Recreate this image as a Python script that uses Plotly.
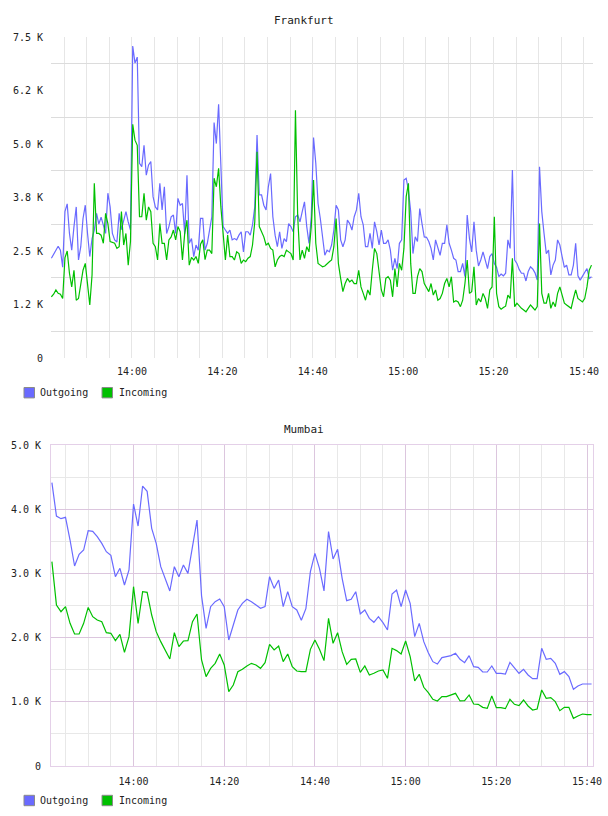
import pandas as pd
import plotly.graph_objects as go

# ---------------- data ----------------
fra_start = "2024-01-01 13:42:10"   # 30 s samples
fra_step = "30s"
fra_outgoing = [
    2330, 2430, 2520, 2610, 2520, 2120, 3420, 3600, 2910, 2520,
    3070, 3530, 2290, 2600, 3260, 3570, 2910, 2370, 2790, 2990,
    3380, 3130, 3290, 3110, 2910, 3850, 3530, 2910, 2760, 2710,
    3380, 3000, 3220, 3420, 3180, 2990, 7290, 6890, 7030, 4550,
    4470, 4970, 4270, 4510, 4590, 3770, 3530, 3460, 4080, 3460,
    4000, 2910, 3070, 3300, 3340, 2910, 3730, 3570, 3610, 2900,
    4270,
    2680, 2790, 2370, 2640, 2520, 3260, 3260, 2520, 2680, 2990,
    3300, 5500, 5010, 5930, 4310, 3070, 2990, 2910, 2990, 2760,
    2790, 2760, 2870, 2950, 2480, 2950, 2950, 2870, 3110, 3530,
    5210, 3810, 3810, 3570, 3460, 4000, 4310, 3300, 2870, 2600,
    2950, 2560, 2790, 2720, 3140, 3070, 2950, 3300, 3340, 3180,
    3420, 3650, 3070, 2680, 3300, 5150, 4550, 3610, 3260, 2760,
    2400,
    2520, 2480, 2640, 2990, 3570, 3460, 2760, 2600, 2760, 3220,
    3140, 2990, 3300, 3460, 3850, 3300, 3110, 2600, 2600, 2910,
    2560, 3180, 2950, 2640, 2990, 2680, 2680, 2760, 2520, 2050,
    2330, 2090, 2680, 2760, 4160, 4200, 3920, 3420, 2440, 2830,
    2720, 3490, 3140, 2830, 2820, 2720, 2560, 2290, 2760, 2600,
    2400, 2680, 2680, 3110, 2680, 2520, 2330, 2290, 2020, 2020,
    2210,
    1900, 3340, 2790, 2480, 3180, 2520, 2150, 2290, 2480, 2250,
    2090, 2370, 2440, 2210, 2120, 1900, 1960, 1920, 1980, 2760,
    2560, 4390, 2290, 2210, 2070, 1980, 1980, 1800, 2020, 2130,
    2080, 1990, 1820, 4470, 3420, 2910, 2440, 2520, 1940, 2170,
    2290, 2760, 2640, 2370, 2120, 2170, 1940, 1940, 2170, 2680,
    1920, 1820, 1900, 1990, 2090, 1860, 1900,
]
fra_incoming = [
    1430, 1490, 1590, 1510, 1490, 1390, 2340, 2500, 1980, 1660,
    2050, 1350, 1390, 1700, 2050, 2210, 1660, 1240, 1940, 4080,
    2910, 2910, 2870, 2680, 3380, 3140, 2720, 2690, 2680, 2560,
    2600, 3420, 2640, 2910, 2170, 2720, 5460, 5090, 4970, 3300,
    3300, 3850, 3220, 3530, 3420, 2680, 2600, 2290, 3140, 2680,
    2680, 2290, 2760, 2830, 2990, 2760, 3070, 2950, 2290, 2910,
    3220,
    2170, 2350, 2290, 2370, 2210, 2660, 2760, 2300, 2520, 2520,
    2440, 4200, 4000, 4430, 3530, 2830, 2290, 2870, 2370, 2370,
    2290, 2480, 2440, 2210, 2290, 2250, 2330, 2370, 2640, 3180,
    4820, 3070, 2950, 2830, 2640, 2680, 2560, 2520, 2130, 2290,
    2370, 2400, 2370, 2520, 2480, 2440, 2290, 5790, 3300, 2290,
    2520, 2330, 2600, 2480, 3070, 4160, 2680, 2210, 2170, 2130,
    2150,
    2210, 2250, 2290, 2600, 3260, 2210, 1860, 1550, 1740, 1860,
    1780, 1820, 1740, 1740, 2050, 1660, 1510, 1350, 1590, 1470,
    2050, 2560, 2440, 1980, 1590, 1430, 1860, 1900, 1820, 1430,
    2090, 1660, 2210, 2050, 2560, 3770, 4080, 2210, 1510, 1510,
    1900, 2090, 2020, 1740, 1660, 1550, 1740, 1470, 1590, 1350,
    1390, 1510, 1740, 1860, 1660, 1900, 1310, 1340, 1310, 1200,
    1350,
    1740, 2290, 1510, 1550, 2130, 1240, 1390, 1310, 1510, 1390,
    1160, 1590, 1660, 3300, 1510, 1200, 1140, 1180, 1210, 1470,
    1390, 2330, 1200, 1280, 1210, 1160, 1120, 1080, 1160, 1240,
    1180, 1120, 1200, 3140, 1510, 1280, 1280, 1510, 1160, 1310,
    1200, 1510, 1660, 1470, 1280, 1240, 1200, 1160, 1390, 1590,
    1390, 1340, 1310, 1390, 1660, 2050, 2170,
]

mum_start = "2024-01-01 13:42:00"   # 1 min samples
mum_step = "1min"
mum_outgoing = [
    4413, 3894, 3852, 3873, 3520, 3115, 3297, 3364, 3666, 3655,
    3572, 3468, 3338, 3281, 2949, 3079, 2819, 3053, 4081, 3738,
    4361, 4278, 3702, 3468, 3105, 2923, 2726, 3105, 2949, 3131,
    3001, 3416, 3832, 2650, 2144, 2482, 2560, 2601, 2482, 1963,
    2196, 2430, 2534, 2596, 2560, 2508, 2456, 2482, 2949, 2767,
    2897, 2482, 2715, 2482, 2430, 2270, 2450, 3027, 3312, 3079,
    2726, 3650, 3224, 3375, 2923, 2575, 2596, 2715, 2368, 2430,
    2300, 2238, 2326, 2233, 2118, 2679, 2741, 2482, 2741, 2534,
    2015, 2222, 1937, 1765, 1625, 1589, 1688, 1703, 1719, 1755,
    1662, 1610, 1719, 1547, 1537, 1464, 1464, 1558, 1444, 1444,
    1433, 1615, 1537, 1444, 1506, 1418, 1360, 1360, 1833, 1662,
    1677, 1599, 1428, 1470, 1392, 1194, 1246, 1277, 1277, 1277,
]
mum_incoming = [
    3183, 2508, 2404, 2482, 2222, 2056, 2056, 2222, 2470, 2326,
    2274, 2248, 2077, 2067, 1952, 2051, 1771, 2015, 2793, 2222,
    2715, 2705, 2352, 2093, 1937, 1807, 1667, 2077, 1859, 1947,
    1952, 2248, 2368, 1651, 1392, 1521, 1599, 1745, 1573, 1158,
    1262, 1469, 1506, 1558, 1599, 1573, 1521, 1610, 1895, 1807,
    1869, 1625, 1745, 1547, 1480, 1469, 1469, 1817, 1963, 1817,
    1641, 2300, 1911, 2077, 1781, 1584, 1662, 1667, 1459, 1558,
    1418, 1444, 1480, 1495, 1366, 1833, 1797, 1745, 1947, 1703,
    1324, 1428, 1226, 1142, 1039, 1013, 1080, 1080, 1106, 1132,
    1013, 1018, 1106, 966, 961, 914, 898, 1090, 909, 909,
    893, 1039, 961, 940, 1028, 935, 872, 888, 1184, 1054,
    1065, 1002, 862, 914, 914, 743, 779, 810, 800, 800,
]

fra_yticks = [0, 1250, 2500, 3750, 5000, 6250, 7500]
fra_ylabels = ["0", "1.2 K", "2.5 K", "3.8 K", "5.0 K", "6.2 K", "7.5 K"]
mum_yticks = [0, 1000, 2000, 3000, 4000, 5000]
mum_ylabels = ["0", "1.0 K", "2.0 K", "3.0 K", "4.0 K", "5.0 K"]
series_names = ["Outgoing", "Incoming"]
series_colors = ["#6a6aff", "#00c000"]
chart_titles = ["Frankfurt", "Mumbai"]

fra_x = pd.date_range(fra_start, periods=len(fra_outgoing), freq=fra_step)
fra_x2 = pd.date_range(fra_start, periods=len(fra_incoming), freq=fra_step)
mum_x = pd.date_range(mum_start, periods=len(mum_outgoing), freq=mum_step)
mum_x2 = pd.date_range(mum_start, periods=len(mum_incoming), freq=mum_step)

# ---------------- layout geometry (pixels) ----------------
W, H = 608, 816
ML, MR, MT, MB = 51, 15, 37, 50
PW, PH = W - ML - MR, H - MT - MB


def px(x):   # pixel x -> paper x
    return (x - ML) / PW


def py(y):   # pixel y -> paper y
    return 1 - (y - MT) / PH


FONT = "DejaVu Sans Mono"
TXT = "#222222"

fig = go.Figure()
for xs, ys, xa, ya, name, col in [
    (fra_x, fra_outgoing, "x", "y", series_names[0], series_colors[0]),
    (fra_x2, fra_incoming, "x", "y", series_names[1], series_colors[1]),
    (mum_x, mum_outgoing, "x2", "y2", series_names[0], series_colors[0]),
    (mum_x2, mum_incoming, "x2", "y2", series_names[1], series_colors[1]),
]:
    fig.add_trace(go.Scatter(x=xs, y=ys, xaxis=xa, yaxis=ya, mode="lines",
                             line=dict(color=col, width=1.2), name=name,
                             showlegend=False, hoverinfo="x+y+name"))

tick0 = "2024-01-01 14:00:00"
common_x = dict(type="date", tickformat="%H:%M", tick0=tick0, dtick=20 * 60 * 1000,
                ticks="", zeroline=False, automargin=False,
                tickfont=dict(family=FONT, size=10, color=TXT),
                ticklabelstandoff=6)

# legend swatches + texts (drawn as shapes/annotations)
shapes, annotations = [], []
for legend_y in [392.7, 800.5]:
    for (sx, tx), name, col in zip([(24, 39), (102, 118)], series_names, series_colors):
        shapes.append(dict(type="rect", xref="paper", yref="paper",
                           x0=px(sx), x1=px(sx + 10.5),
                           y0=py(legend_y - 5.2), y1=py(legend_y + 5.2),
                           fillcolor=col, line=dict(color="#8a8a8a", width=1)))
        annotations.append(dict(text=name, xref="paper", yref="paper",
                                x=px(tx - 1), y=py(legend_y), showarrow=False,
                                xanchor="left", yanchor="middle",
                                font=dict(family=FONT, size=10, color=TXT)))

for title, ty in zip(chart_titles, [20, 429]):
    annotations.append(dict(text=title, xref="paper", yref="paper", x=px(304), y=py(ty),
                            showarrow=False, xanchor="center", yanchor="middle",
                            font=dict(family=FONT, size=11, color=TXT)))

fig.update_layout(
    width=W, height=H,
    margin=dict(l=ML, r=MR, t=MT, b=MB, autoexpand=False),
    paper_bgcolor="white", plot_bgcolor="white",
    font=dict(family=FONT, size=10, color=TXT),
    showlegend=False,
    xaxis=dict(**common_x, anchor="y", domain=[0, 1], showline=False,
               range=["2024-01-01 13:42:05", "2024-01-01 15:42:00"],
               showgrid=True, gridcolor="#e6e6e6", gridwidth=1,
               minor=dict(tick0=tick0, dtick=5 * 60 * 1000, showgrid=True,
                          gridcolor="#e6e6e6", gridwidth=1)),
    yaxis=dict(anchor="x", domain=[py(358), 1], range=[0, 7500], automargin=False,
               tickmode="array", tickvals=fra_yticks, ticktext=fra_ylabels,
               showgrid=False, zeroline=False, showline=False, ticks="",
               ticklabelstandoff=7,
               tickfont=dict(family=FONT, size=10, color=TXT),
               minor=dict(tickmode="linear", tick0=625, dtick=1250, showgrid=True,
                          gridcolor="#dcdcdc", gridwidth=1)),
    xaxis2=dict(**common_x, anchor="y2", domain=[0, 1],
                range=["2024-01-01 13:41:48", "2024-01-01 15:41:19"],
                showgrid=True, gridcolor="#dcc6de", gridwidth=1,
                showline=True, linecolor="#e4d0e8", linewidth=1, mirror=True,
                minor=dict(tick0=tick0, dtick=5 * 60 * 1000, showgrid=True,
                           gridcolor="#e8e8e8", gridwidth=1)),
    yaxis2=dict(anchor="x2", domain=[0, py(445)], range=[0, 5000], automargin=False,
                tickmode="array", tickvals=mum_yticks, ticktext=mum_ylabels,
                showgrid=True, gridcolor="#dcc6de", gridwidth=1,
                showline=True, linecolor="#e4d0e8", linewidth=1, mirror=True,
                zeroline=False, ticks="", ticklabelstandoff=7,
                tickfont=dict(family=FONT, size=10, color=TXT),
                minor=dict(tickmode="linear", tick0=500, dtick=1000, showgrid=True,
                           gridcolor="#e8e8e8", gridwidth=1)),
    shapes=shapes,
    annotations=annotations,
)

fig.write_html("out.html")
